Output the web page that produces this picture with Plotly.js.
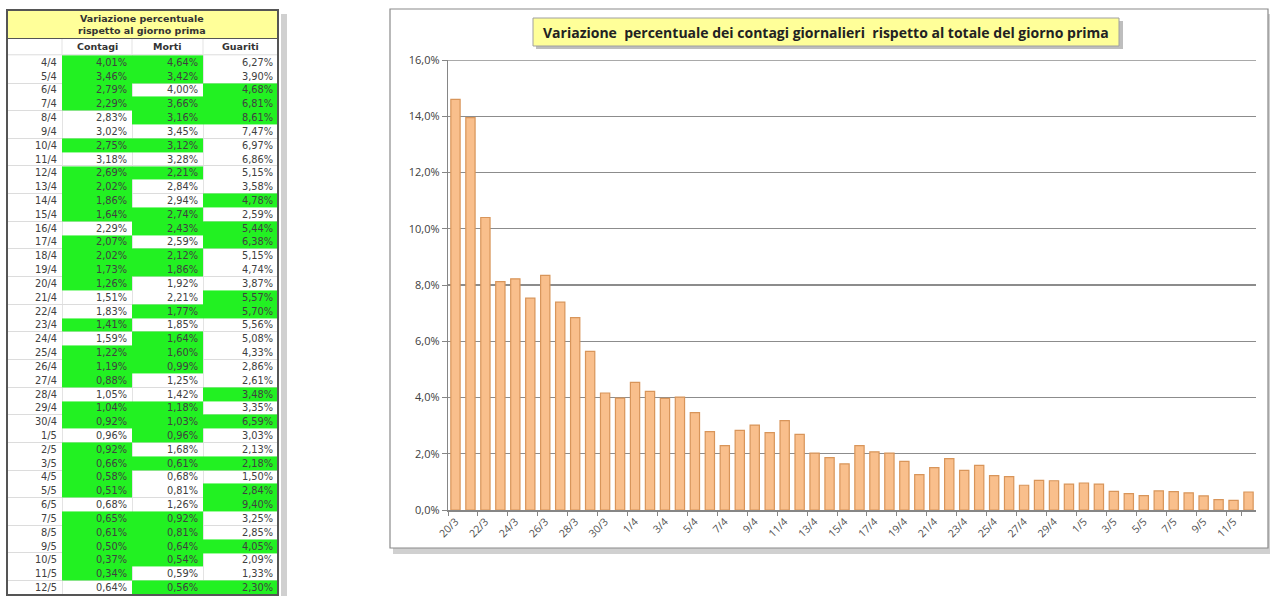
<!DOCTYPE html>
<html><head><meta charset="utf-8">
<script src="https://cdn.plot.ly/plotly-3.0.1.min.js"></script>
<style>html,body{margin:0;padding:0;background:#fff}#c{width:1270px;height:596px}</style>
</head><body><div id="c"></div><script>
// ---- Chart data ----
const chartDates = ['20/3','21/3','22/3','23/3','24/3','25/3','26/3','27/3','28/3','29/3','30/3','31/3',
  '1/4','2/4','3/4','4/4','5/4','6/4','7/4','8/4','9/4','10/4','11/4','12/4','13/4','14/4','15/4','16/4','17/4','18/4','19/4','20/4',
  '21/4','22/4','23/4','24/4','25/4','26/4','27/4','28/4','29/4','30/4',
  '1/5','2/5','3/5','4/5','5/5','6/5','7/5','8/5','9/5','10/5','11/5','12/5'];
const contagiPct = [14.6,13.95,10.4,8.12,8.22,7.53,8.34,7.39,6.84,5.64,4.16,3.98,
  4.54,4.22,3.97,4.01,3.46,2.79,2.29,2.83,3.02,2.75,3.18,2.69,2.02,1.86,1.64,2.29,2.07,2.02,1.73,1.26,
  1.51,1.83,1.41,1.59,1.22,1.19,0.88,1.05,1.04,0.92,
  0.96,0.92,0.66,0.58,0.51,0.68,0.65,0.61,0.50,0.37,0.34,0.64];
const yTickVals = [0,2,4,6,8,10,12,14,16];
const chartTitle = 'Variazione  percentuale dei contagi giornalieri  rispetto al totale del giorno prima';

// ---- Table data ----
const tableTitle = ['Variazione percentuale','rispetto al giorno prima'];
const tableHeaders = ['Contagi', 'Morti', 'Guariti'];
const tableDates = ['4/4','5/4','6/4','7/4','8/4','9/4','10/4','11/4','12/4','13/4','14/4','15/4','16/4','17/4','18/4','19/4','20/4',
  '21/4','22/4','23/4','24/4','25/4','26/4','27/4','28/4','29/4','30/4',
  '1/5','2/5','3/5','4/5','5/5','6/5','7/5','8/5','9/5','10/5','11/5','12/5'];
const tabContagi = [4.01,3.46,2.79,2.29,2.83,3.02,2.75,3.18,2.69,2.02,1.86,1.64,2.29,2.07,2.02,1.73,1.26,
  1.51,1.83,1.41,1.59,1.22,1.19,0.88,1.05,1.04,0.92,0.96,0.92,0.66,0.58,0.51,0.68,0.65,0.61,0.50,0.37,0.34,0.64];
const tabMorti = [4.64,3.42,4.00,3.66,3.16,3.45,3.12,3.28,2.21,2.84,2.94,2.74,2.43,2.59,2.12,1.86,1.92,
  2.21,1.77,1.85,1.64,1.60,0.99,1.25,1.42,1.18,1.03,0.96,1.68,0.61,0.68,0.81,1.26,0.92,0.81,0.64,0.54,0.59,0.56];
const tabGuariti = [6.27,3.90,4.68,6.81,8.61,7.47,6.97,6.86,5.15,3.58,4.78,2.59,5.44,6.38,5.15,4.74,3.87,
  5.57,5.70,5.56,5.08,4.33,2.86,2.61,3.48,3.35,6.59,3.03,2.13,2.18,1.50,2.84,9.40,3.25,2.85,4.05,2.09,1.33,2.30];
const greenContagi = [1,1,1,1,0,0,1,0,1,1,1,1,0,1,1,1,1,0,0,1,0,1,1,1,0,1,1,0,1,1,1,1,0,1,1,1,1,1,0];
const greenMorti   = [1,1,0,1,1,0,1,0,1,0,0,1,1,0,1,1,0,0,1,0,1,1,1,0,0,1,1,1,0,1,0,0,0,1,1,1,1,0,1];
const greenGuariti = [0,0,1,1,1,0,0,0,0,0,1,0,1,1,0,0,0,1,1,0,0,0,0,0,1,0,1,0,0,1,0,1,1,0,0,1,0,0,1];

// ---- layout constants ----
const W = 1270, H = 596;
const px = x => x / W, py = y => 1 - y / H;
const fmt = v => v.toFixed(2).replace('.', ',') + '%';
const GREEN = '#22f122';
const colEdges = [7, 62, 132, 203, 278];   // table column boundaries (px)
const TBL_TOP = 10, TBL_HDR = 38.5, TBL_ROWS = 54.8, TBL_BOT = 595;

const xTickVals = chartDates.filter((d, i) => i % 2 === 0);

const bars = {
  type: 'bar', x: chartDates, y: contagiPct, xaxis: 'x', yaxis: 'y',
  marker: {color: '#f9bf8c', line: {color: '#d8955a', width: 1.2}},
  width: 0.62, hoverinfo: 'x+y'
};

// table cells as a heatmap (green = highlighted)
const zCells = tableDates.map((d, i) => [0, greenContagi[i], greenMorti[i], greenGuariti[i]]);
const cells = {
  type: 'heatmap', xaxis: 'x2', yaxis: 'y2',
  x: colEdges, y: tableDates, z: zCells, zmin: 0, zmax: 1,
  colorscale: [[0, 'rgba(255,255,255,0)'], [1, GREEN]], showscale: false, hoverinfo: 'skip'
};

const shapes = [
  // chart frame shadow + frame
  {type:'rect', xref:'paper', yref:'paper', x0:px(393), x1:px(1272), y0:py(554), y1:py(14), fillcolor:'rgba(120,120,120,0.35)', line:{width:0}, layer:'below'},
  {type:'rect', xref:'paper', yref:'paper', x0:px(390), x1:px(1268), y0:py(548), y1:py(9), fillcolor:'#ffffff', line:{color:'#8a8a8a', width:1.2}, layer:'below'},
  // chart title box shadow + box
  {type:'rect', xref:'paper', yref:'paper', x0:px(536), x1:px(1123), y0:py(49), y1:py(21), fillcolor:'rgba(110,110,110,0.45)', line:{width:0}, layer:'below'},
  {type:'rect', xref:'paper', yref:'paper', x0:px(533), x1:px(1119), y0:py(46), y1:py(18), fillcolor:'#ffff99', line:{color:'#a0a0a0', width:1}, layer:'below'},
  // top gridline at the range maximum
  {type:'line', xref:'x domain', yref:'y', x0:0, x1:1, y0:yTickVals[yTickVals.length - 1], y1:yTickVals[yTickVals.length - 1], line:{color:'#8c8c8c', width:1.3}, layer:'below'},
  // table shadow
  {type:'rect', xref:'paper', yref:'paper', x0:px(281), x1:px(287), y0:py(596), y1:py(14), fillcolor:'rgba(120,120,120,0.35)', line:{width:0}, layer:'below'},
  // header row grid
  {type:'line', xref:'paper', yref:'paper', x0:px(7), x1:px(278), y0:py(TBL_ROWS), y1:py(TBL_ROWS), line:{color:'#dcdcdc', width:1}, layer:'below'},
  // table title box
  {type:'rect', xref:'paper', yref:'paper', x0:px(7), x1:px(278), y0:py(TBL_HDR), y1:py(TBL_TOP), fillcolor:'#ffff99', line:{color:'#555', width:1}, layer:'above'},
  // table outer border
  {type:'rect', xref:'paper', yref:'paper', x0:px(7), x1:px(278), y0:py(TBL_BOT), y1:py(TBL_TOP), fillcolor:'rgba(0,0,0,0)', line:{color:'#555', width:2}, layer:'above'}
];
colEdges.slice(1, -1).forEach(e => shapes.push(
  {type:'line', xref:'paper', yref:'paper', x0:px(e), x1:px(e), y0:py(TBL_ROWS), y1:py(TBL_HDR), line:{color:'#e3e3e3', width:1}, layer:'below'}));

const annotations = [
  {xref:'paper', yref:'paper', x:px(826), y:py(32), text:'<b>' + chartTitle + '</b>', showarrow:false,
   font:{family:'Open Sans', size:14, color:'#222'}, xanchor:'center', yanchor:'middle'},
  {xref:'paper', yref:'paper', x:px(142), y:py(24.5), text:'<b>' + tableTitle.join('<br>') + '</b>', showarrow:false,
   font:{family:'DejaVu Sans', size:9.5, color:'#333'}, xanchor:'center', yanchor:'middle'}
];
tableHeaders.forEach((h, j) => annotations.push({
  xref:'paper', yref:'paper', x:px((colEdges[j+1] + colEdges[j+2]) / 2), y:py((TBL_HDR + TBL_ROWS) / 2),
  text:'<b>' + h + '</b>', showarrow:false, xanchor:'center', yanchor:'middle',
  font:{family:'DejaVu Sans', size:9.5, color:'#333'}}));
const cellFont = {family:'DejaVu Sans', size:9.8, color:'#404040'};
tableDates.forEach((d, i) => {
  const vals = [d, fmt(tabContagi[i]), fmt(tabMorti[i]), fmt(tabGuariti[i])];
  vals.forEach((t, j) => annotations.push({
    xref:'x2', yref:'y2', x: colEdges[j+1], y: d, text: t, showarrow:false,
    xanchor:'right', yanchor:'middle', xshift: -3, font: cellFont}));
});

const layout = {
  width: W, height: H, autosize: false,
  margin: {l:0, r:0, t:0, b:0},
  paper_bgcolor: '#ffffff', plot_bgcolor: 'rgba(0,0,0,0)',
  separators: ',.', showlegend: false, bargap: 0.38,
  xaxis: {
    domain: [px(448), px(1256)], type: 'category',
    tickmode: 'array', tickvals: xTickVals, ticktext: xTickVals,
    tickangle: -45, tickfont: {family: 'Open Sans', size: 10.5, color: '#505050'},
    showline: true, linecolor: '#868686', linewidth: 1.5,
    ticks: 'outside', ticklen: 4, tickcolor: '#868686', tickson: 'boundaries',
    showgrid: false, zeroline: false, anchor: 'y'
  },
  yaxis: {
    domain: [py(510), py(60)], range: [0, 16],
    tickmode: 'array', tickvals: yTickVals,
    ticktext: yTickVals.map(v => v.toFixed(1).replace('.', ',') + '%'),
    tickfont: {family: 'Open Sans', size: 11, color: '#404040'},
    showline: true, linecolor: '#868686', linewidth: 1.2,
    ticks: 'outside', ticklen: 5, tickcolor: '#868686',
    showgrid: true, gridcolor: '#8c8c8c', gridwidth: 1.3, zeroline: false, anchor: 'x'
  },
  xaxis2: {
    domain: [px(colEdges[0]), px(colEdges[colEdges.length - 1])], range: [colEdges[0], colEdges[colEdges.length - 1]],
    tickmode: 'array', tickvals: colEdges, showticklabels: false, ticks: '',
    showgrid: true, gridcolor: '#e3e3e3', gridwidth: 1, zeroline: false, showline: false, anchor: 'y2'
  },
  yaxis2: {
    domain: [py(TBL_BOT), py(TBL_ROWS)], type: 'category', autorange: 'reversed',
    showticklabels: false, ticks: '', tickson: 'boundaries',
    showgrid: true, gridcolor: '#dcdcdc', gridwidth: 1, zeroline: false, showline: false, anchor: 'x2'
  },
  shapes: shapes, annotations: annotations
};

Plotly.newPlot('c', [bars, cells], layout, {displayModeBar: false, staticPlot: true});
</script></body></html>
